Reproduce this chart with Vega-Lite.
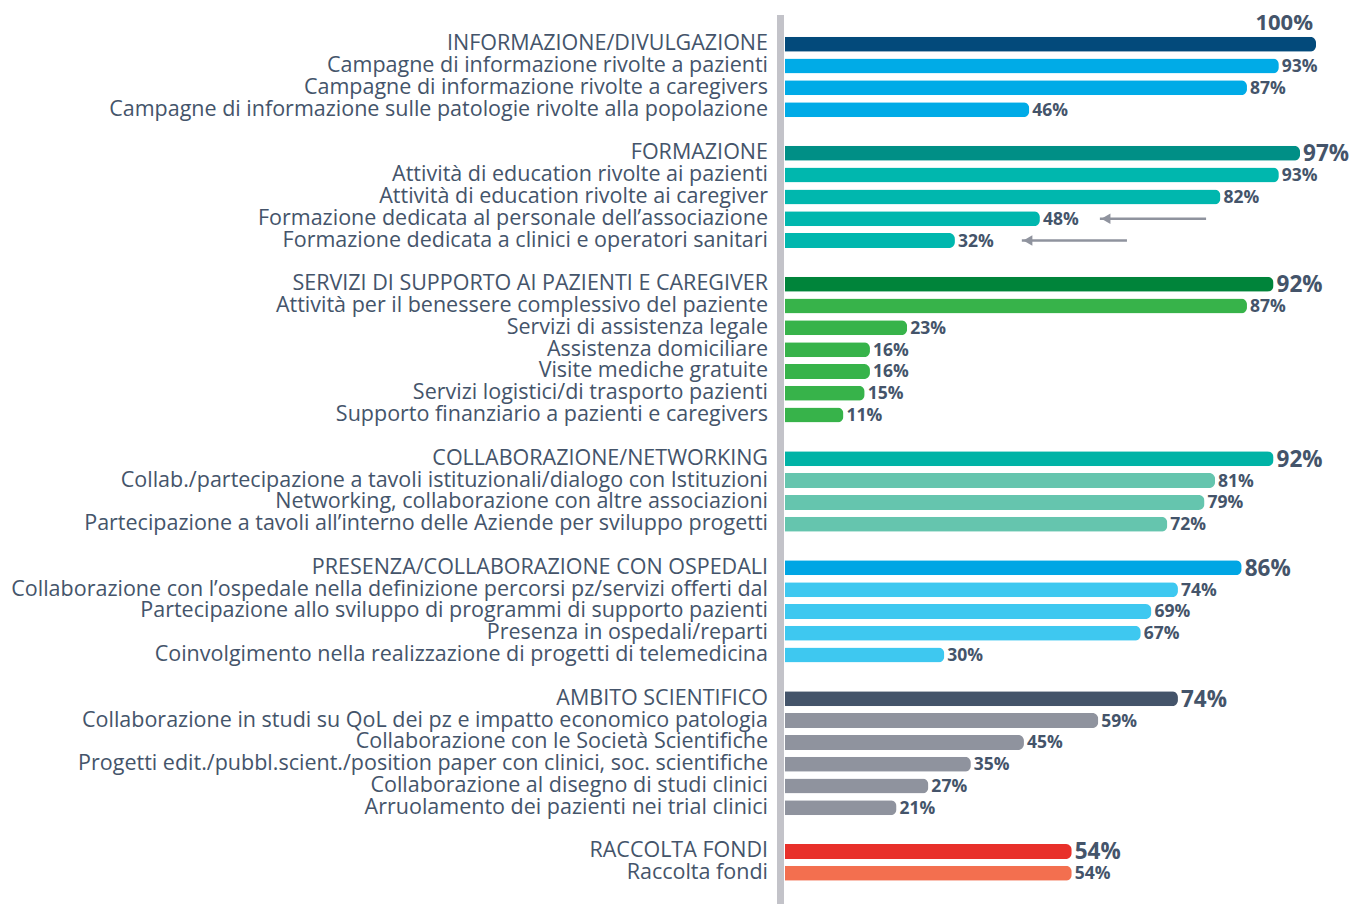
{
  "$schema": "https://vega.github.io/schema/vega-lite/v6.json",
  "autosize": "none",
  "width": 531,
  "height": 889,
  "padding": {"left": 785, "top": 15, "right": 44, "bottom": 0},
  "background": "white",
  "config": {"view": {"stroke": null}, "font": "Open Sans", "scale": {"continuousPadding": 0}},
  "datasets": {
    "rows": [
      {"order": 0, "group": "info", "level": "header", "label": "INFORMAZIONE/DIVULGAZIONE", "value": 100},
      {"order": 1, "group": "info", "level": "item", "label": "Campagne di informazione rivolte a pazienti", "value": 93},
      {"order": 2, "group": "info", "level": "item", "label": "Campagne di informazione rivolte a caregivers", "value": 87},
      {"order": 3, "group": "info", "level": "item", "label": "Campagne di informazione sulle patologie rivolte alla popolazione", "value": 46},
      {"order": 5, "group": "form", "level": "header", "label": "FORMAZIONE", "value": 97},
      {"order": 6, "group": "form", "level": "item", "label": "Attività di education rivolte ai pazienti", "value": 93},
      {"order": 7, "group": "form", "level": "item", "label": "Attività di education rivolte ai caregiver", "value": 82},
      {"order": 8, "group": "form", "level": "item", "label": "Formazione dedicata al personale dell’associazione", "value": 48},
      {"order": 9, "group": "form", "level": "item", "label": "Formazione dedicata a clinici e operatori sanitari", "value": 32},
      {"order": 11, "group": "serv", "level": "header", "label": "SERVIZI DI SUPPORTO AI PAZIENTI E CAREGIVER", "value": 92},
      {"order": 12, "group": "serv", "level": "item", "label": "Attività per il benessere complessivo del paziente", "value": 87},
      {"order": 13, "group": "serv", "level": "item", "label": "Servizi di assistenza legale", "value": 23},
      {"order": 14, "group": "serv", "level": "item", "label": "Assistenza domiciliare", "value": 16},
      {"order": 15, "group": "serv", "level": "item", "label": "Visite mediche gratuite", "value": 16},
      {"order": 16, "group": "serv", "level": "item", "label": "Servizi logistici/di trasporto pazienti", "value": 15},
      {"order": 17, "group": "serv", "level": "item", "label": "Supporto finanziario a pazienti e caregivers", "value": 11},
      {"order": 19, "group": "coll", "level": "header", "label": "COLLABORAZIONE/NETWORKING", "value": 92},
      {"order": 20, "group": "coll", "level": "item", "label": "Collab./partecipazione a tavoli istituzionali/dialogo con Istituzioni", "value": 81},
      {"order": 21, "group": "coll", "level": "item", "label": "Networking, collaborazione con altre associazioni", "value": 79},
      {"order": 22, "group": "coll", "level": "item", "label": "Partecipazione a tavoli all’interno delle Aziende per sviluppo progetti", "value": 72},
      {"order": 24, "group": "osp", "level": "header", "label": "PRESENZA/COLLABORAZIONE CON OSPEDALI", "value": 86},
      {"order": 25, "group": "osp", "level": "item", "label": "Collaborazione con l’ospedale nella definizione percorsi pz/servizi offerti dal", "value": 74},
      {"order": 26, "group": "osp", "level": "item", "label": "Partecipazione allo sviluppo di programmi di supporto pazienti", "value": 69},
      {"order": 27, "group": "osp", "level": "item", "label": "Presenza in ospedali/reparti", "value": 67},
      {"order": 28, "group": "osp", "level": "item", "label": "Coinvolgimento nella realizzazione di progetti di telemedicina", "value": 30},
      {"order": 30, "group": "sci", "level": "header", "label": "AMBITO SCIENTIFICO", "value": 74},
      {"order": 31, "group": "sci", "level": "item", "label": "Collaborazione in studi su QoL dei pz e impatto economico patologia", "value": 59},
      {"order": 32, "group": "sci", "level": "item", "label": "Collaborazione con le Società Scientifiche", "value": 45},
      {"order": 33, "group": "sci", "level": "item", "label": "Progetti edit./pubbl.scient./position paper con clinici, soc. scientifiche", "value": 35},
      {"order": 34, "group": "sci", "level": "item", "label": "Collaborazione al disegno di studi clinici", "value": 27},
      {"order": 35, "group": "sci", "level": "item", "label": "Arruolamento dei pazienti nei trial clinici", "value": 21},
      {"order": 37, "group": "fondi", "level": "header", "label": "RACCOLTA FONDI", "value": 54},
      {"order": 38, "group": "fondi", "level": "item", "label": "Raccolta fondi", "value": 54}
    ],
    "arrows": [
      {"order": 8, "tip": 59.3, "tail": 79.3},
      {"order": 9, "tip": 44.6, "tail": 64.4}
    ]
  },
  "encoding": {
    "y": {"field": "order", "type": "quantitative", "scale": {"domain": [-1.338, 39.407], "reverse": true, "zero": false, "nice": false, "padding": 0}, "axis": null}
  },
  "layer": [
    {
      "data": {"values": [{}]},
      "mark": {"type": "rule", "color": "#c3c3c9", "strokeWidth": 7, "xOffset": -4.5, "strokeCap": "butt"},
      "encoding": {"x": {"datum": 0, "type": "quantitative", "scale": {"domain": [0, 100], "nice": false, "zero": false, "padding": 0}, "axis": null}, "y": null}
    },
    {
      "data": {"name": "rows"},
      "transform": [{"calculate": "datum.group + '|' + datum.level", "as": "ck"}],
      "mark": {"type": "bar", "orient": "horizontal", "size": 15, "cornerRadiusEnd": 6},
      "encoding": {
        "x": {"field": "value", "type": "quantitative"},
        "color": {
          "field": "ck", "type": "nominal", "legend": null,
          "scale": {
            "domain": ["info|header", "info|item", "form|header", "form|item", "serv|header", "serv|item", "coll|header", "coll|item", "osp|header", "osp|item", "sci|header", "sci|item", "fondi|header", "fondi|item"],
            "range": ["#034a7b", "#00abe7", "#008f86", "#00b7ae", "#00843a", "#37b34a", "#00b3a6", "#65c5ae", "#00a6e4", "#3ec8f0", "#44546a", "#8f939e", "#e8302a", "#f36f4f"]
          }
        }
      }
    },
    {
      "data": {"name": "rows"},
      "mark": {"type": "text", "align": "right", "baseline": "middle", "dx": -17, "dy": 0, "fontSize": 21.5, "color": "#44546a"},
      "encoding": {
        "x": {"datum": 0, "type": "quantitative"},
        "text": {"field": "label"}
      }
    },
    {
      "data": {"name": "rows"},
      "transform": [{"filter": "datum.value < 100"}, {"calculate": "datum.value + '%'", "as": "lbl"}],
      "mark": {"type": "text", "align": "left", "baseline": "middle", "dx": 3, "dy": 1, "fontWeight": "bold", "color": "#44546a"},
      "encoding": {
        "x": {"field": "value", "type": "quantitative"},
        "text": {"field": "lbl"},
        "size": {"field": "level", "type": "nominal", "legend": null, "scale": {"domain": ["header", "item"], "range": [22.5, 17.5]}}
      }
    },
    {
      "data": {"name": "rows"},
      "transform": [{"filter": "datum.value >= 100"}, {"calculate": "datum.value + '%'", "as": "lbl"}],
      "mark": {"type": "text", "align": "right", "baseline": "middle", "dx": -3, "dy": -21, "fontWeight": "bold", "fontSize": 22, "color": "#44546a"},
      "encoding": {
        "x": {"field": "value", "type": "quantitative"},
        "text": {"field": "lbl"}
      }
    },
    {
      "data": {"name": "arrows"},
      "mark": {"type": "rule", "color": "#8f939e", "strokeWidth": 2.5},
      "encoding": {
        "x": {"field": "tip", "type": "quantitative"},
        "x2": {"field": "tail"}
      }
    },
    {
      "data": {"name": "arrows"},
      "mark": {"type": "point", "shape": "triangle-left", "filled": true, "opacity": 1, "color": "#8f939e", "size": 110, "xOffset": 6},
      "encoding": {
        "x": {"field": "tip", "type": "quantitative"}
      }
    }
  ]
}
